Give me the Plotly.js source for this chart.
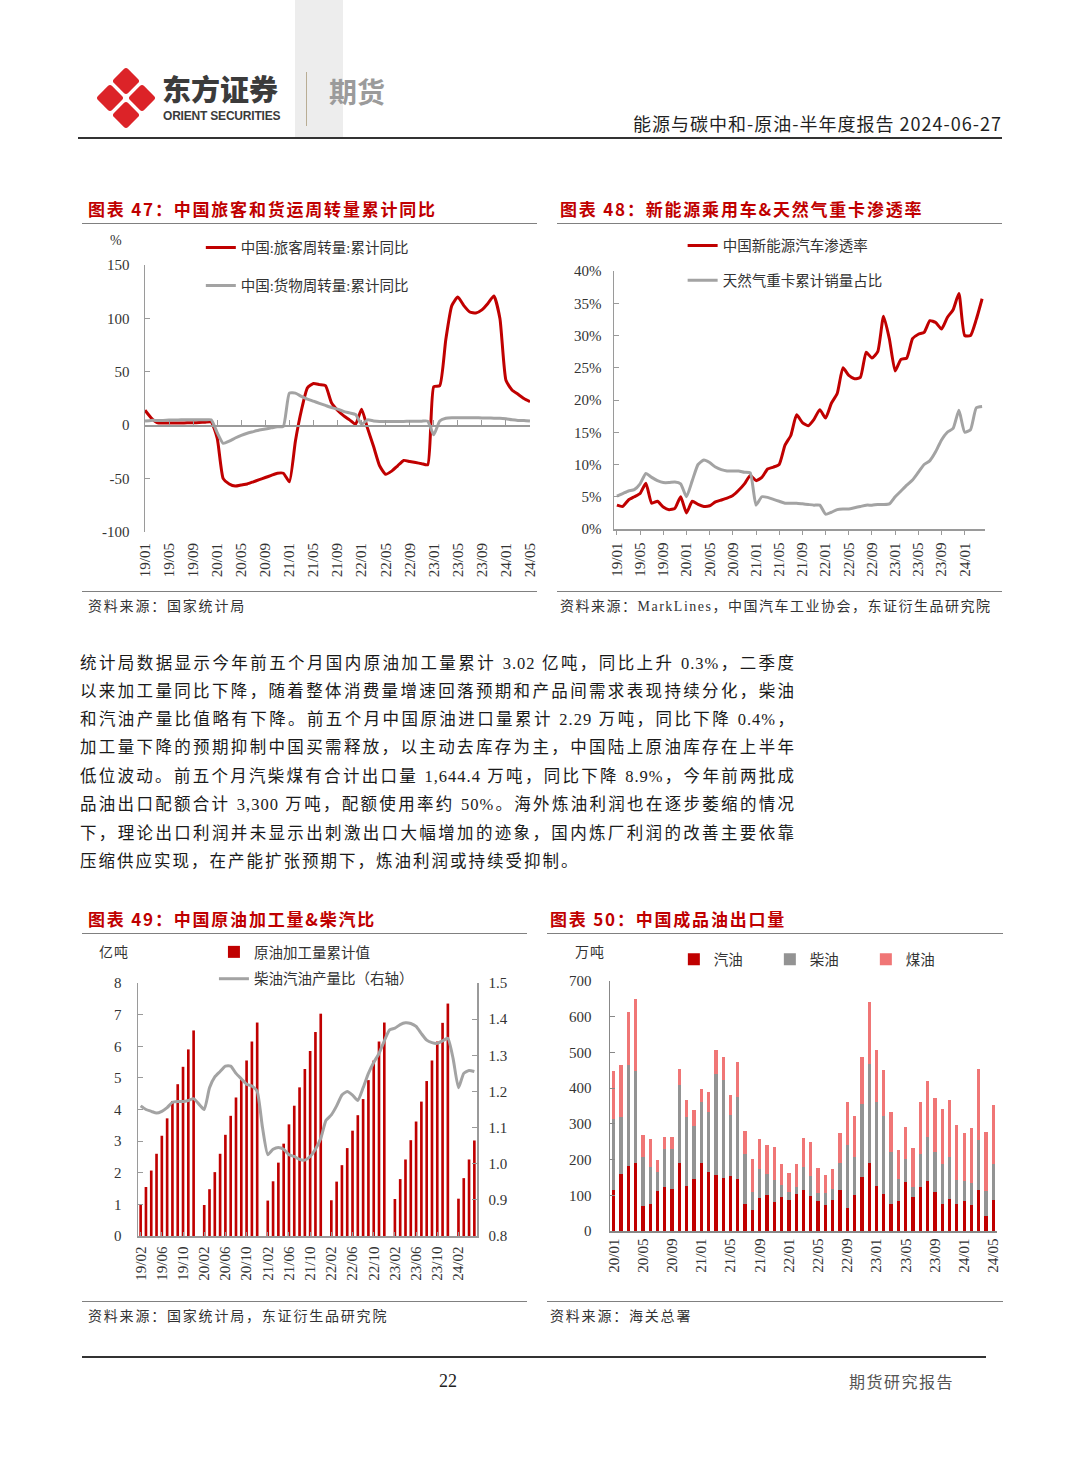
<!DOCTYPE html>
<html><head><meta charset="utf-8">
<script src="https://cdn.plot.ly/plotly-3.0.1.min.js"></script>
<style>
body{margin:0;background:#fff;}
#page{position:relative;width:1080px;height:1466px;overflow:hidden;background:#fff;font-family:"Liberation Serif","Noto Sans CJK SC",serif;}
.title{position:absolute;font-family:"Noto Sans CJK SC",sans-serif;font-weight:700;color:#c00000;font-size:17px;letter-spacing:1.8px;line-height:20px;white-space:nowrap;}
.rule{position:absolute;height:0;border-top:1.5px solid #808080;}
.src{position:absolute;font-family:"Liberation Serif","Noto Sans CJK SC",serif;font-size:14px;letter-spacing:1.8px;color:#333;line-height:16px;white-space:nowrap;}
.unit{position:absolute;font-family:"Liberation Serif","Noto Sans CJK SC",serif;font-size:14px;color:#333;line-height:16px;white-space:nowrap;letter-spacing:1px;}
.chart{position:absolute;}
.bl{position:absolute;left:80px;width:715px;font-size:16.5px;letter-spacing:1px;line-height:20px;color:#1a1a1a;text-align:justify;text-align-last:justify;font-family:"Liberation Serif","Noto Sans CJK SC",serif;}
</style></head>
<body><div id="page">
<!-- header -->
<div style="position:absolute;left:295px;top:0;width:48px;height:138px;background:#ededed;"></div>
<svg style="position:absolute;left:96px;top:66px" width="60" height="64" viewBox="0 0 60 64">
 <g fill="#dc2328">
  <rect x="-10" y="-10" width="20" height="20" rx="3" transform="translate(30,15) rotate(45)"/>
  <rect x="-10" y="-10" width="20" height="20" rx="3" transform="translate(14,32) rotate(45)"/>
  <rect x="-10" y="-10" width="20" height="20" rx="3" transform="translate(46,32) rotate(45)"/>
  <rect x="-10" y="-10" width="20" height="20" rx="3" transform="translate(30,49) rotate(45)"/>
 </g>
</svg>
<div style="position:absolute;left:162px;top:72px;font-family:'Noto Sans CJK SC',sans-serif;font-weight:900;font-size:29px;line-height:32px;color:#3b3b3b;">东方证券</div>
<div style="position:absolute;left:163px;top:110px;font-family:'Liberation Sans',Arial,sans-serif;font-weight:700;font-size:12px;line-height:13px;color:#3b3b3b;letter-spacing:-0.2px;">ORIENT SECURITIES</div>
<div style="position:absolute;left:306px;top:72px;width:1px;height:54px;background:#b9ad94;"></div>
<div style="position:absolute;left:329px;top:75px;font-family:'Noto Sans CJK SC',sans-serif;font-weight:700;font-size:28px;line-height:32px;color:#9b9b9b;">期货</div>
<div style="position:absolute;right:78px;top:112px;font-family:'Noto Sans CJK SC',sans-serif;font-size:18px;letter-spacing:1px;line-height:23px;color:#1f1f1f;white-space:nowrap;">能源与碳中和-原油-半年度报告 2024-06-27</div>
<div style="position:absolute;left:78px;top:137px;width:924px;height:2px;background:#333;"></div>

<!-- chart 47 -->
<div class="title" style="left:88px;top:199px;">图表 47：中国旅客和货运周转量累计同比</div>
<div class="rule" style="left:82px;top:223px;width:455px;"></div>
<div id="c47" class="chart" style="left:80px;top:230px;width:460px;height:360px;"></div>
<div class="unit" style="left:110px;top:233px;">%</div>
<div class="rule" style="left:82px;top:591px;width:455px;"></div>
<div class="src" style="left:88px;top:599px;">资料来源：国家统计局</div>

<!-- chart 48 -->
<div class="title" style="left:560px;top:199px;">图表 48：新能源乘用车&amp;天然气重卡渗透率</div>
<div class="rule" style="left:557px;top:223px;width:445px;"></div>
<div id="c48" class="chart" style="left:550px;top:230px;width:460px;height:360px;"></div>
<div class="rule" style="left:557px;top:591px;width:445px;"></div>
<div class="src" style="left:560px;top:599px;letter-spacing:1.5px;">资料来源：MarkLines，中国汽车工业协会，东证衍生品研究院</div>

<!-- body text -->
<div class="bl" style="top:654px;">统计局数据显示今年前五个月国内原油加工量累计 3.02 亿吨，同比上升 0.3%，二季度</div>
<div class="bl" style="top:682px;">以来加工量同比下降，随着整体消费量增速回落预期和产品间需求表现持续分化，柴油</div>
<div class="bl" style="top:710px;">和汽油产量比值略有下降。前五个月中国原油进口量累计 2.29 万吨，同比下降 0.4%，</div>
<div class="bl" style="top:738px;">加工量下降的预期抑制中国买需释放，以主动去库存为主，中国陆上原油库存在上半年</div>
<div class="bl" style="top:767px;">低位波动。前五个月汽柴煤有合计出口量 1,644.4 万吨，同比下降 8.9%，今年前两批成</div>
<div class="bl" style="top:795px;">品油出口配额合计 3,300 万吨，配额使用率约 50%。海外炼油利润也在逐步萎缩的情况</div>
<div class="bl" style="top:824px;">下，理论出口利润并未显示出刺激出口大幅增加的迹象，国内炼厂利润的改善主要依靠</div>
<div class="bl" style="top:852px;text-align:left;text-align-last:left;letter-spacing:2px;">压缩供应实现，在产能扩张预期下，炼油利润或持续受抑制。</div>

<!-- chart 49 -->
<div class="title" style="left:88px;top:909px;">图表 49：中国原油加工量&amp;柴汽比</div>
<div class="rule" style="left:82px;top:933px;width:445px;"></div>
<div id="c49" class="chart" style="left:80px;top:930px;width:460px;height:370px;"></div>
<div class="unit" style="left:99px;top:945px;">亿吨</div>
<div class="rule" style="left:82px;top:1301px;width:445px;"></div>
<div class="src" style="left:88px;top:1309px;">资料来源：国家统计局，东证衍生品研究院</div>

<!-- chart 50 -->
<div class="title" style="left:550px;top:909px;">图表 50：中国成品油出口量</div>
<div class="rule" style="left:547px;top:933px;width:456px;"></div>
<div id="c50" class="chart" style="left:545px;top:930px;width:460px;height:370px;"></div>
<div class="unit" style="left:575px;top:945px;">万吨</div>
<div class="rule" style="left:547px;top:1301px;width:456px;"></div>
<div class="src" style="left:550px;top:1309px;">资料来源：海关总署</div>

<!-- footer -->
<div style="position:absolute;left:82px;top:1356px;width:904px;height:1.5px;background:#333;"></div>
<div style="position:absolute;left:430px;top:1371px;width:36px;text-align:center;font-family:'Liberation Serif',serif;font-size:18px;line-height:20px;color:#222;">22</div>
<div style="position:absolute;left:849px;top:1371px;font-family:'Noto Sans CJK SC',sans-serif;font-size:16px;line-height:20px;color:#555;letter-spacing:1.5px;">期货研究报告</div>
</div>
<script>
function months(y, m, n){const out=[];for(let i=0;i<n;i++){const yy=y+Math.floor((m-1+i)/12);const mm=(m-1+i)%12+1;out.push(String(yy%100).padStart(2,'0')+'/'+String(mm).padStart(2,'0'));}return out;}
function every4(a){return a.filter((_,i)=>i%4===0);}

// ---- Chart 47: passenger / freight turnover cumulative YoY (%), 19/01-24/05
const c47Months = months(2019,1,65);
const c47Passenger = [14,7,2.5,2,2,2,2,2.2,2.3,2.5,2.8,3,
 -12,-50,-55,-57,-56,-55,-53,-51,-49,-47,-45,-45,
 -53,-15,14,35,39,38,37,21,14,9,5,1,
 15,-3,-20,-38,-46,-43,-38,-33,-34,-35,-36,-37,
 36,37,80,112,120,112,106,105,108,114,121,100,
 42,33,29,25,22];
const c47Freight = [4,4.5,4.5,4.5,4.8,4.8,5,5,5,5,5,5,
 -7,-17,-15,-12,-9.5,-7.5,-6,-4.5,-3.5,-2.5,-1.5,-1,
 30,30,27,24.5,22.5,20.5,18.5,16.5,15,13,11.5,10,
 1,5,4,3.5,3.5,3.5,3.5,3.5,3.8,3.8,3.8,3.8,
 -9,4,6.5,7,7,7,7,7,6.8,6.8,6.5,6.5,
 6,5,4.5,4.5,4];
const c47Names = ['中国:旅客周转量:累计同比','中国:货物周转量:累计同比'];
const c47YTicks = [-100,-50,0,50,100,150];
const c47YText = ['-100','-50','0','50','100','150'];

// ---- Chart 48: NEV penetration & natural-gas heavy truck share (%), 19/01-24/04
const c48Months = months(2019,1,64);
const c48NEV = [3.7,3.5,4.5,5.0,5.5,7.1,4.0,4.3,3.4,3.0,3.2,5.0,
 2.5,4.3,3.8,3.5,3.6,4.2,4.5,4.8,5.2,6.0,7.0,8.3,
 7.5,8.0,9.3,9.6,10.0,13.0,14.5,17.7,16.5,16.0,17.0,18.5,
 17.2,19.5,21.0,25.0,23.8,23.3,23.5,27.4,26.5,27.5,33.0,29.5,
 24.5,26.3,26.5,29.5,30.2,30.5,32.3,32.0,31.0,32.8,34.0,36.5,
 30.0,30.0,32.5,35.7];
const c48Gas = [5.1,5.5,5.9,6.1,7.0,8.6,8.0,7.5,7.2,7.2,7.3,7.0,
 5.0,7.5,10.0,10.7,10.3,9.6,9.2,9.0,9.0,9.0,8.8,8.7,
 3.7,5.0,4.9,4.6,4.3,4.0,4.0,4.0,3.9,3.8,3.7,3.7,
 2.3,2.6,3.0,3.1,3.1,3.3,3.5,3.7,3.7,3.8,3.8,3.9,
 5.0,5.9,6.8,7.6,8.8,10.0,10.6,12.0,13.8,15.0,15.6,18.4,
 15.0,15.4,18.8,19.0];
const c48Names = ['中国新能源汽车渗透率','天然气重卡累计销量占比'];

// ---- Chart 49: crude processing cumulative (亿吨) & diesel/gasoline ratio, 19/02-24/05
const c49Months = months(2019,2,64);
const c49Crude = [1.0,1.55,2.07,2.6,3.17,3.72,4.27,4.8,5.35,5.9,6.5,
 null,0.98,1.48,2.02,2.6,3.2,3.8,4.38,4.95,5.55,6.15,6.75,
 null,1.12,1.73,2.32,2.92,3.53,4.12,4.7,5.28,5.85,6.45,7.03,
 null,1.13,1.72,2.24,2.78,3.33,3.82,4.33,4.93,5.55,6.15,6.75,
 null,1.17,1.8,2.42,3.03,3.62,4.25,4.9,5.55,6.15,6.74,7.35,
 null,1.18,1.83,2.42,3.02];
const c49Ratio = [1.16,1.15,1.145,1.14,1.145,1.155,1.17,1.172,1.172,1.175,1.18,
 1.165,1.15,1.21,1.24,1.255,1.27,1.27,1.25,1.235,1.22,1.215,1.2,
 1.1,1.025,1.04,1.045,1.04,1.025,1.02,1.012,1.01,1.02,1.04,1.07,
 1.12,1.135,1.16,1.19,1.2,1.19,1.175,1.21,1.25,1.28,1.305,1.34,
 1.37,1.375,1.385,1.39,1.388,1.38,1.36,1.342,1.335,1.333,1.34,1.347,
 1.29,1.21,1.25,1.258,1.255];
const c49Names = ['原油加工量累计值','柴油汽油产量比（右轴）'];

// ---- Chart 50: refined product exports (万吨), 20/01-24/05
const c50Months = months(2020,1,53);
const c50Gasoline = [116,159,182,190,69,77,112,123,117,190,127,146,
 190,165,158,148,154,146,75,60,92,102,82,94,
 86,103,116,99,85,73,88,114,65,102,151,191,
 125,105,77,84,137,95,123,139,109,77,89,77,
 84,74,114,41,86];
const c50Diesel = [199,160,282,258,138,102,53,108,114,218,192,147,
 171,168,281,274,170,229,142,49,83,59,60,34,
 23,20,63,54,21,33,31,77,175,105,206,278,
 236,216,144,63,66,28,94,124,112,112,118,65,
 55,61,140,70,103];
const c50Kerosene = [133,145,150,202,63,79,33,32,32,45,47,45,
 38,56,69,64,56,98,63,94,84,81,93,59,
 54,66,82,95,71,52,54,84,121,115,129,173,
 147,129,111,81,88,110,144,156,152,152,159,154,
 136,154,201,165,163];
const c50Names = ['汽油','柴油','煤油'];

const FONT = '"Liberation Serif","Noto Sans CJK SC",serif';
const tickFont = {family:FONT,size:15,color:'#333'};
const legFont = {family:FONT,size:14.5,color:'#333'};
const RED = '#c00000', GREY = '#a3a3a3', AX = '#9a9a9a';
const cfg = {displayModeBar:false, staticPlot:true};

// Chart 47
Plotly.newPlot('c47', [
 {x:c47Months, y:c47Passenger, type:'scatter', mode:'lines', name:c47Names[0], legendgroup:'a', line:{color:RED,width:3,shape:'spline',smoothing:0.5}, xaxis:'x', yaxis:'y'},
 {x:c47Months, y:c47Freight, type:'scatter', mode:'lines', name:c47Names[1], legendgroup:'b', line:{color:GREY,width:3,shape:'spline',smoothing:0.5}, xaxis:'x2', yaxis:'y'}
], {
 width:460, height:360, margin:{l:65,r:10,t:35,b:58,autoexpand:false},
 paper_bgcolor:'rgba(0,0,0,0)', plot_bgcolor:'rgba(0,0,0,0)',
 font:{family:FONT,color:'#333'},
 xaxis:{type:'category', range:[0,64], tickvals:every4(c47Months), ticktext:every4(c47Months), tickangle:-90, ticklabelstandoff:7, showline:false, ticks:'', showgrid:false, zeroline:false, tickfont:tickFont},
 xaxis2:{type:'category', overlaying:'x', anchor:'free', position:0.4, range:[0,64], tickvals:every4(c47Months), showticklabels:false, showline:true, linecolor:AX, linewidth:1.5, ticks:'inside', ticklen:5, tickcolor:AX, showgrid:false, zeroline:false},
 yaxis:{range:[-100,150], tickvals:c47YTicks, ticktext:c47YText, ticklabelstandoff:11, showline:true, linecolor:AX, linewidth:1.5, ticks:'inside', ticklen:5, tickcolor:AX, showgrid:false, zeroline:false, tickfont:tickFont},
 showlegend:true,
 legend:{x:0.145, y:1.125, xanchor:'left', yanchor:'top', bgcolor:'rgba(0,0,0,0)', font:legFont, tracegroupgap:16, traceorder:'grouped'}
}, cfg);

// Chart 48
Plotly.newPlot('c48', [
 {x:c48Months, y:c48NEV, type:'scatter', mode:'lines', name:c48Names[0], legendgroup:'a', line:{color:RED,width:3,shape:'spline',smoothing:0.5}},
 {x:c48Months, y:c48Gas, type:'scatter', mode:'lines', name:c48Names[1], legendgroup:'b', line:{color:GREY,width:3,shape:'spline',smoothing:0.5}}
], {
 width:460, height:360, margin:{l:64,r:25,t:41,b:61,autoexpand:false},
 paper_bgcolor:'rgba(0,0,0,0)', plot_bgcolor:'rgba(0,0,0,0)',
 font:{family:FONT,color:'#333'},
 xaxis:{type:'category', range:[-0.5,63.5], tickvals:every4(c48Months), ticktext:every4(c48Months), tickangle:-90, ticklabelstandoff:2, showline:true, linecolor:AX, linewidth:1.5, ticks:'outside', ticklen:4, tickcolor:AX, showgrid:false, zeroline:false, tickfont:tickFont},
 yaxis:{range:[0,40], dtick:5, ticksuffix:'%', ticklabelstandoff:8, showline:true, linecolor:AX, linewidth:1.5, ticks:'inside', ticklen:5, tickcolor:AX, showgrid:false, zeroline:false, tickfont:tickFont},
 showlegend:true,
 legend:{x:0.185, y:1.161, xanchor:'left', yanchor:'top', bgcolor:'rgba(0,0,0,0)', font:legFont, tracegroupgap:13, traceorder:'grouped'}
}, cfg);

// Chart 49
Plotly.newPlot('c49', [
 {x:c49Months, y:c49Crude, type:'bar', name:c49Names[0], legendgroup:'a', marker:{color:RED}},
 {x:c49Months, y:c49Ratio, type:'scatter', mode:'lines', name:c49Names[1], legendgroup:'b', yaxis:'y2', line:{color:GREY,width:3,shape:'spline',smoothing:0.5}}
], {
 width:460, height:370, margin:{l:58,r:63,t:53,b:64,autoexpand:false},
 paper_bgcolor:'rgba(0,0,0,0)', plot_bgcolor:'rgba(0,0,0,0)',
 font:{family:FONT,color:'#333'}, bargap:0.5,
 xaxis:{type:'category', range:[-0.5,63.5], tickvals:every4(c49Months), ticktext:every4(c49Months), tickangle:-90, ticklabelstandoff:3, showline:true, linecolor:AX, linewidth:1.5, ticks:'inside', ticklen:4, tickcolor:AX, showgrid:false, zeroline:false, tickfont:tickFont},
 yaxis:{range:[0,8], dtick:1, ticklabelstandoff:12, showline:true, linecolor:AX, linewidth:1.5, ticks:'inside', ticklen:5, tickcolor:AX, showgrid:false, zeroline:false, tickfont:tickFont},
 yaxis2:{range:[0.8,1.5], dtick:0.1, tickformat:'.1f', overlaying:'y', side:'right', ticklabelstandoff:7, showline:true, linecolor:AX, linewidth:1.5, ticks:'inside', ticklen:5, tickcolor:AX, showgrid:false, zeroline:false, tickfont:tickFont},
 showlegend:true,
 legend:{x:0.224, y:1.186, xanchor:'left', yanchor:'top', bgcolor:'rgba(0,0,0,0)', font:legFont, tracegroupgap:5, traceorder:'grouped'}
}, cfg);

// Chart 50
Plotly.newPlot('c50', [
 {x:c50Months, y:c50Gasoline, type:'bar', name:c50Names[0], marker:{color:'#c00000'}},
 {x:c50Months, y:c50Diesel, type:'bar', name:c50Names[1], marker:{color:'#939393'}},
 {x:c50Months, y:c50Kerosene, type:'bar', name:c50Names[2], marker:{color:'#f07676'}}
], {
 width:460, height:370, margin:{l:65,r:8,t:51,b:69,autoexpand:false},
 paper_bgcolor:'rgba(0,0,0,0)', plot_bgcolor:'rgba(0,0,0,0)',
 font:{family:FONT,color:'#333'}, barmode:'stack', bargap:0.55,
 xaxis:{type:'category', range:[-0.5,52.5], tickvals:every4(c50Months), ticktext:every4(c50Months), tickangle:-90, showline:true, linecolor:'#888', linewidth:1.5, ticks:'', showgrid:false, zeroline:false, tickfont:tickFont},
 yaxis:{range:[0,700], dtick:100, ticklabelstandoff:14, showline:true, linecolor:'#888', linewidth:1.5, ticks:'inside', ticklen:5, tickcolor:'#888', showgrid:false, zeroline:false, tickfont:tickFont},
 showlegend:true,
 legend:{orientation:'h', x:0.165, y:1.151, xanchor:'left', yanchor:'top', bgcolor:'rgba(0,0,0,0)', font:legFont, itemwidth:30, entrywidth:51, entrywidthmode:'pixels', traceorder:'normal'}
}, cfg);
</script>
</body></html>
